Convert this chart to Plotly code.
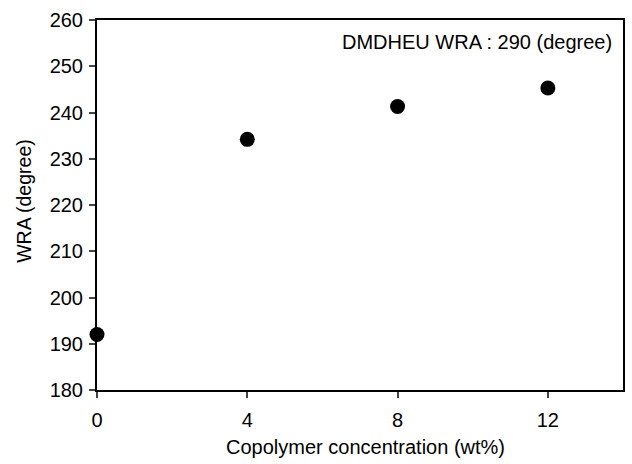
import plotly.graph_objects as go

concentration = [0, 4, 8, 12]
wra = [192, 234.2, 241.3, 245.3]
x_ticks = [0, 4, 8, 12]
y_ticks = [180, 190, 200, 210, 220, 230, 240, 250, 260]

font = dict(family="Liberation Sans, Arial, sans-serif", size=20, color="black")

fig = go.Figure()
fig.add_trace(go.Scatter(
    x=concentration, y=wra, mode="markers",
    marker=dict(color="black", size=15),
    cliponaxis=False, showlegend=False,
))

fig.update_layout(
    width=632, height=464,
    margin=dict(l=97, r=7, t=20, b=74),
    paper_bgcolor="white", plot_bgcolor="white",
    font=font,
    xaxis=dict(
        range=[0, 14], tickvals=x_ticks, ticks="outside", ticklen=6, tickwidth=2,
        showline=True, linecolor="black", linewidth=2, mirror=True,
        showgrid=False, zeroline=False, tickfont=font, ticklabelstandoff=5,
    ),
    yaxis=dict(
        range=[180, 260], tickvals=y_ticks, ticks="outside", ticklen=6, tickwidth=2,
        showline=True, linecolor="black", linewidth=2, mirror=True,
        showgrid=False, zeroline=False, tickfont=font, ticklabelstandoff=2,
    ),
    annotations=[
        dict(text="DMDHEU WRA : 290 (degree)", xref="paper", yref="paper",
             x=0.982, y=0.9405, xanchor="right", yanchor="middle", showarrow=False,
             font=font),
        dict(text="Copolymer concentration (wt%)", xref="paper", yref="paper",
             x=0.511, y=-0.154, xanchor="center", yanchor="middle", showarrow=False,
             font=font),
        dict(text="WRA (degree)", xref="paper", yref="paper", textangle=-90,
             x=-0.139, y=0.511, xanchor="center", yanchor="middle", showarrow=False,
             font=dict(family="Liberation Sans, Arial, sans-serif", size=19.5, color="black")),
    ],
)

fig.write_html("out.html")
